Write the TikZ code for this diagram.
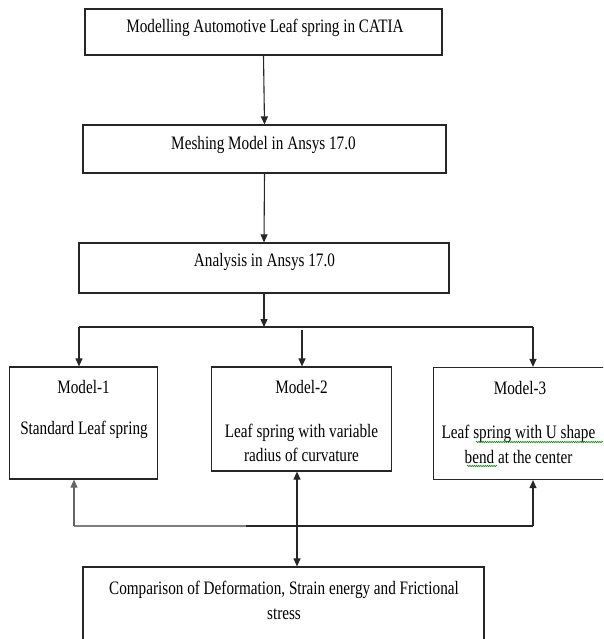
\documentclass[tikz,border=0pt]{standalone}
\usepackage{fontspec}
\setmainfont{Liberation Serif}[FakeStretch=0.80]
\usetikzlibrary{arrows.meta,decorations.pathmorphing}
\begin{document}
\begin{tikzpicture}[x=1pt,y=-1pt,
  box/.style={draw=black!85,line width=1.2pt,inner sep=0pt},
  lbl/.style={inner sep=0pt,align=center,font=\fontsize{19}{24.5}\selectfont},
  arr/.style={draw=black!85,line width=1.1pt,-{Triangle[length=8pt,width=7pt]}},
  darr/.style={draw=black!85,line width=1.1pt,{Triangle[length=8pt,width=7pt]}-{Triangle[length=8pt,width=7pt]}},
  ln/.style={draw=black!85,line width=1.1pt},
  lng/.style={draw=black!50,line width=1.4pt},
  squig/.style={draw=green!55!black,line width=0.6pt,decorate,decoration={snake,segment length=2.2pt,amplitude=0.7pt}}]
\useasboundingbox (0,0) rectangle (603,639);
\clip (0,0) rectangle (603,639);
% boxes
\node[box,minimum width=357pt,minimum height=46pt] (b1) at (263.5,32) {};
\node[box,minimum width=363pt,minimum height=48pt] (b2) at (264.5,149) {};
\node[box,minimum width=370pt,minimum height=50pt] (b3) at (264,268) {};
\node[box,minimum width=148pt,minimum height=112pt] (m1) at (83.8,423) {};
\node[box,minimum width=180pt,minimum height=104pt] (m2) at (301.5,419) {};
\node[box,minimum width=172.5pt,minimum height=112pt] (m3) at (519.75,423.5) {};
\node[box,minimum width=401pt,minimum height=78pt] (cmp) at (283.5,606) {};
% texts
\node[lbl] (t1) at (265,28) {Modelling Automotive Leaf spring in CATIA};
\node[lbl] (t2) at (263.5,145) {Meshing Model in Ansys 17.0};
\node[lbl] (t3) at (264.5,262) {Analysis in Ansys 17.0};
\node[lbl] (t4) at (83.5,387) {Model-1};
\node[lbl] (t5) at (301.5,387) {Model-2};
\node[lbl] (t6) at (520,388) {Model-3};
\node[lbl] (t7) at (84,430) {Standard Leaf spring};
\node[lbl] (t8) at (301.5,443) {Leaf spring with variable\\radius of curvature};
\node[lbl] (t9) at (518.5,444.5) {Leaf spring with U shape\\bend at the center};
\node[lbl] (t10) at (284,600.5) {Comparison of Deformation, Strain energy and Frictional\\stress};
% spell-check squiggles
\coordinate (s1a) at (476,442);
\coordinate (s1b) at (603,442);
\coordinate (s2a) at (467,466);
\coordinate (s2b) at (497,466);
\draw[squig] (s1a) -- (s1b);
\draw[squig] (s2a) -- (s2b);
% top connectors
\draw[arr] (b1.south) -- (b2.north);
\draw[arr] (b2.south) -- (b3.north);
\coordinate (j) at (264,327);
\coordinate (h1) at (79,327);
\coordinate (h2) at (302,327);
\coordinate (h3) at (533,327);
\draw[arr] (b3.south) -- (j);
\draw[ln] (h1) -- (h3);
\draw[arr] (h1) -- (h1 |- m1.north);
\draw[arr] ([yshift=-3pt]h2) -- (h2 |- m2.north);
\draw[arr] (h3) -- (h3 |- m3.north);
% bottom connectors
\coordinate (g1) at (74,526);
\coordinate (g2) at (246,526);
\coordinate (g3) at (475,526);
\coordinate (g4) at (533,526);
\coordinate (v) at (297,526);
\draw[lng] (g1) -- (g2);
\draw[ln] (g2) -- (g3);
\draw[ln] (g3) -- (g4);
\draw[arr,draw=black!60] (g1) -- (g1 |- m1.south);
\draw[arr] (g4) -- (g4 |- m3.south);
\draw[darr] (v |- m2.south) -- (v |- cmp.north);
\end{tikzpicture}
\end{document}
